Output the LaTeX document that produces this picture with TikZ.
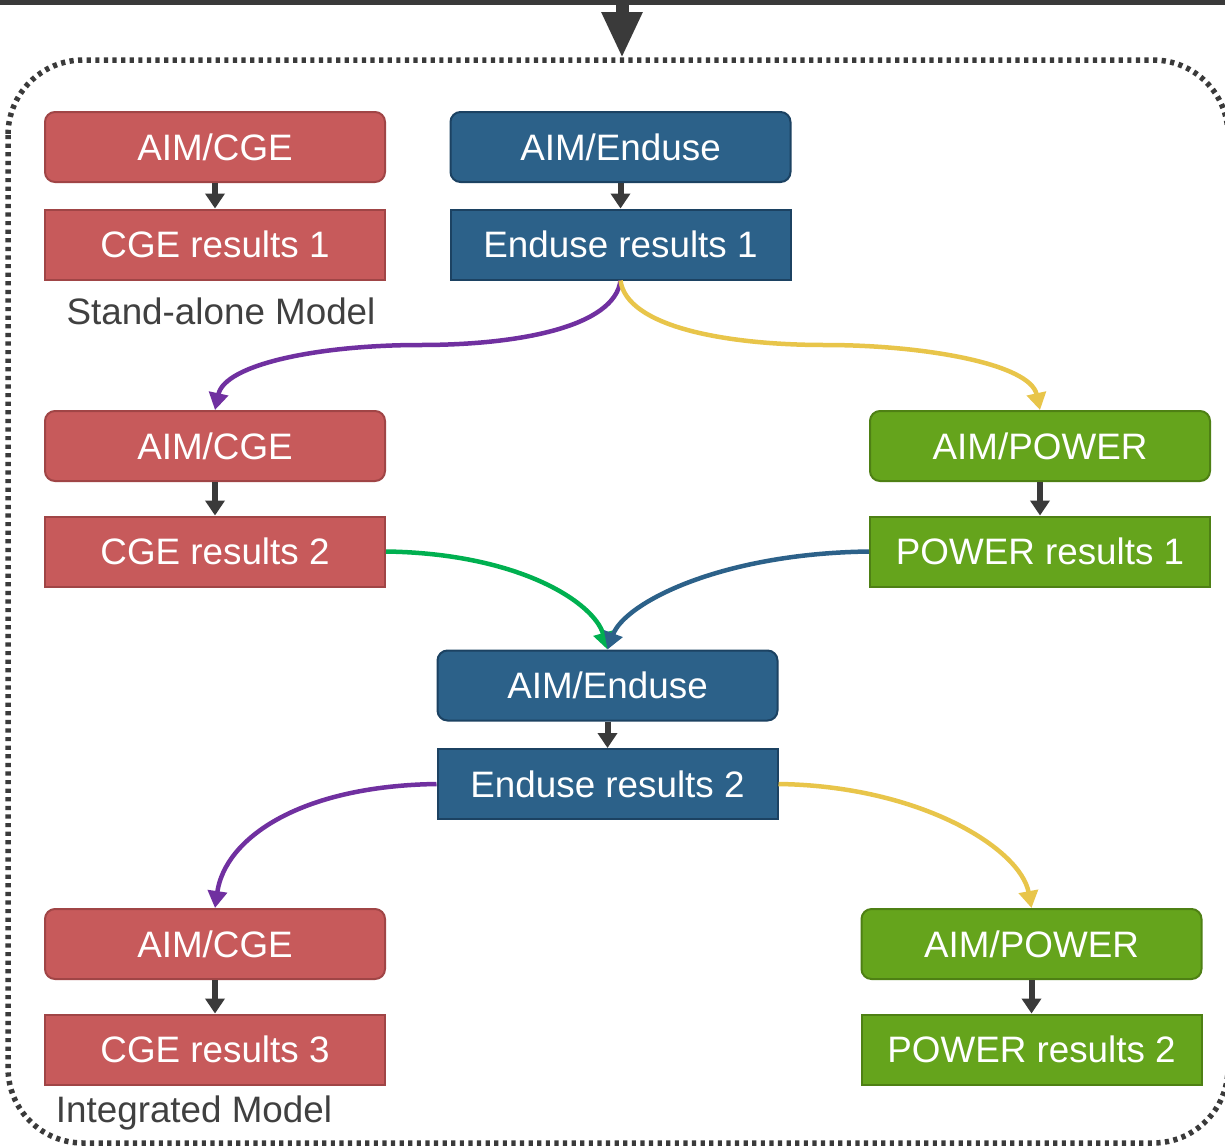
\documentclass[tikz,border=0pt]{standalone}
\usepackage{fontspec}
\setmainfont{Liberation Sans}
\usetikzlibrary{arrows.meta}
\definecolor{cgefill}{HTML}{C75A5B}
\definecolor{cgeline}{HTML}{A04546}
\definecolor{endfill}{HTML}{2C6189}
\definecolor{endline}{HTML}{1C4262}
\definecolor{powfill}{HTML}{65A41C}
\definecolor{powline}{HTML}{4E8014}
\definecolor{purp}{HTML}{7030A0}
\definecolor{yell}{HTML}{E8C54A}
\definecolor{grn}{HTML}{00B050}
\definecolor{blu}{HTML}{2C6189}
\definecolor{dark}{HTML}{3A3A3A}
\definecolor{labelgrey}{HTML}{404040}
\tikzset{
  box/.style={minimum width=340pt, minimum height=70pt, line width=2pt, text=white,
    font=\fontsize{36.8}{40}\selectfont, inner sep=0pt},
  modelbox/.style={box, rounded corners=10pt},
  resultbox/.style={box},
  cge/.style={fill=cgefill, draw=cgeline},
  enduse/.style={fill=endfill, draw=endline},
  power/.style={fill=powfill, draw=powline},
  stepArrow/.style={draw=dark, line width=6pt, -{Triangle[width=19pt,length=15pt]}},
  flow/.style={line width=4.5pt, -{Triangle[width=19pt,length=17pt]}},
  caption/.style={text=labelgrey, font=\fontsize{36.8}{40}\selectfont, inner sep=0pt},
}
\begin{document}
\begin{tikzpicture}[x=1pt,y=-1pt]
\useasboundingbox (0,0) rectangle (1225,1146);
\clip (0,0) rectangle (1225,1146);
\fill[white] (0,0) rectangle (1225,1146);

% top bar and entry arrow
\fill[dark] (0,-1) rectangle (1225,4.5);
\coordinate (topin) at (622,0);
\coordinate (contin) at (622,58);
\draw[dark, line width=13pt, -{Triangle[width=38pt,length=46pt]}] (topin) -- (contin);

% dotted container
\draw[dark, line width=5.5pt, dash pattern=on 4.2pt off 4.4pt, rounded corners=75pt] (8,60) rectangle (1228,1143);

% stand-alone
\node[modelbox, cge] (cgeA) at (215,147) {AIM/CGE};
\node[resultbox, cge] (cgeAr) at (215,244.5) {CGE results 1};
\node[modelbox, enduse] (endA) at (620.5,147) {AIM/Enduse};
\node[resultbox, enduse] (endAr) at (620.5,244.5) {Enduse results 1};
\node[caption] (standalone) at (221,311) {Stand-alone Model};

% integrated
\node[modelbox, cge] (cgeB) at (215,446) {AIM/CGE};
\node[resultbox, cge] (cgeBr) at (215,551.5) {CGE results 2};
\node[modelbox, power] (powA) at (1040,446) {AIM/POWER};
\node[resultbox, power] (powAr) at (1040,551.5) {POWER results 1};
\node[modelbox, enduse] (endB) at (607.5,685.5) {AIM/Enduse};
\node[resultbox, enduse] (endBr) at (607.5,784) {Enduse results 2};
\node[modelbox, cge] (cgeC) at (215,944) {AIM/CGE};
\node[resultbox, cge] (cgeCr) at (215,1049.5) {CGE results 3};
\node[modelbox, power] (powB) at (1031.5,944) {AIM/POWER};
\node[resultbox, power] (powBr) at (1031.5,1049.5) {POWER results 2};
\node[caption] (integrated) at (194,1112.5) {Integrated Model};

% short arrows
\draw[stepArrow] (cgeA) -- (cgeAr);
\draw[stepArrow] (endA) -- (endAr);
\draw[stepArrow] (cgeB) -- (cgeBr);
\draw[stepArrow] (powA) -- (powAr);
\draw[stepArrow] (endB) -- (endBr);
\draw[stepArrow] (cgeC) -- (cgeCr);
\draw[stepArrow] (powB) -- (powBr);

% curved flows
\coordinate (mP1) at (420,345);
\coordinate (mY1) at (825,345);
\draw[flow, purp] (endAr.south) .. controls +(-6,46) and +(100,0) .. (mP1)
  .. controls +(-100,0) and +(10,-46) .. (cgeB.north);
\draw[flow, yell] (endAr.south) .. controls +(6,46) and +(-100,0) .. (mY1)
  .. controls +(100,0) and +(-10,-46) .. (powA.north);
\draw[flow, grn] (cgeBr.east) .. controls +(135,2) and +(-13,-46) .. (endB.north);
\draw[flow, blu] (powAr.west) .. controls +(-150,2) and +(17,-46) .. (endB.north);
\draw[flow, purp] (endBr.west) .. controls +(-138,2) and +(10,-69) .. (cgeC.north);
\draw[flow, yell] (endBr.east) .. controls +(143,2) and +(-11,-59) .. (powB.north);
\end{tikzpicture}
\end{document}
